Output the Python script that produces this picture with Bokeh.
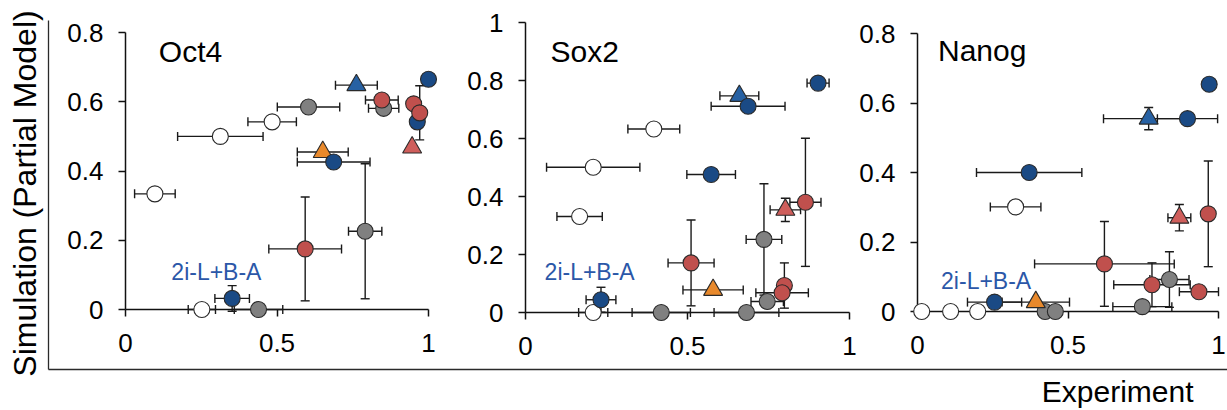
import math
from bokeh.plotting import figure
from bokeh.models import (Range1d, LinearAxis, FixedTicker, ColumnDataSource,
                          Whisker, TeeHead, Label)
from bokeh.embed import file_html
from bokeh.resources import INLINE

FONT = "Liberation Sans"

# ------------------------------------------------------------------ data
x_ticks = [0, 0.5, 1]
x_tick_labels = ["0", "0.5", "1"]
oct4_y_ticks = [0, 0.2, 0.4, 0.6, 0.8]
oct4_y_tick_labels = ["0", "0.2", "0.4", "0.6", "0.8"]
sox2_y_ticks = [0, 0.2, 0.4, 0.6, 0.8, 1]
sox2_y_tick_labels = ["0", "0.2", "0.4", "0.6", "0.8", "1"]
nanog_y_ticks = [0, 0.2, 0.4, 0.6, 0.8]
nanog_y_tick_labels = ["0", "0.2", "0.4", "0.6", "0.8"]

panel_names = ["Oct4", "Sox2", "Nanog"]
annotation_text = "2i-L+B-A"
y_title = "Simulation (Partial Model)"
x_title = "Experiment"

# Oct4
oct4_white_x = [0.097, 0.313, 0.484, 0.252]
oct4_white_y = [0.334, 0.500, 0.542, 0.0]
oct4_white_xerr = [0.067, 0.141, 0.080, 0.045]
oct4_white_yerr = [0, 0, 0, 0]
oct4_gray_x = [0.604, 0.852, 0.791, 0.439]
oct4_gray_y = [0.585, 0.581, 0.226, 0.0]
oct4_gray_xerr = [0.103, 0.050, 0.055, 0.080]
oct4_gray_yerr = [0, 0, 0.195, 0]
oct4_orange_x = [0.651]
oct4_orange_y = [0.455]
oct4_orange_xerr = [0.084]
oct4_orange_yerr = [0]
oct4_bluetri_x = [0.762]
oct4_bluetri_y = [0.648]
oct4_bluetri_xerr = [0.069]
oct4_bluetri_yerr = [0]
oct4_blue_x = [1.0, 0.963, 0.687, 0.352]
oct4_blue_y = [0.665, 0.542, 0.426, 0.032]
oct4_blue_xerr = [0, 0, 0.120, 0.057]
oct4_blue_yerr = [0, 0, 0, 0.037]
oct4_red_x = [0.846, 0.951, 0.971, 0.593]
oct4_red_y = [0.605, 0.594, 0.568, 0.175]
oct4_red_xerr = [0.054, 0, 0, 0.120]
oct4_red_yerr = [0, 0, 0.078, 0.150]
oct4_redtri_x = [0.946]
oct4_redtri_y = [0.468]
oct4_redtri_xerr = [0]
oct4_redtri_yerr = [0]

# Sox2
sox2_white_x = [0.209, 0.396, 0.167, 0.209]
sox2_white_y = [0.501, 0.633, 0.331, 0.0]
sox2_white_xerr = [0.144, 0.080, 0.070, 0.045]
sox2_white_yerr = [0, 0, 0, 0]
sox2_gray_x = [0.736, 0.746, 0.419, 0.682]
sox2_gray_y = [0.252, 0.038, 0.0, 0.0]
sox2_gray_xerr = [0.055, 0.050, 0.090, 0.100]
sox2_gray_yerr = [0.192, 0, 0, 0]
sox2_orange_x = [0.579]
sox2_orange_y = [0.078]
sox2_orange_xerr = [0.093]
sox2_orange_yerr = [0]
sox2_bluetri_x = [0.660]
sox2_bluetri_y = [0.747]
sox2_bluetri_xerr = [0.060]
sox2_bluetri_yerr = [0]
sox2_blue_x = [0.903, 0.687, 0.573, 0.233]
sox2_blue_y = [0.791, 0.711, 0.476, 0.044]
sox2_blue_xerr = [0.034, 0.114, 0.075, 0.046]
sox2_blue_yerr = [0, 0, 0, 0.043]
sox2_red_x = [0.864, 0.511, 0.799, 0.792]
sox2_red_y = [0.380, 0.171, 0.093, 0.068]
sox2_red_xerr = [0.048, 0.071, 0, 0.081]
sox2_red_yerr = [0.221, 0.148, 0.078, 0]
sox2_redtri_x = [0.802]
sox2_redtri_y = [0.354]
sox2_redtri_xerr = [0.047]
sox2_redtri_yerr = [0.040]

# Nanog
nanog_white_x = [0.014, 0.110, 0.200, 0.326]
nanog_white_y = [0.0, 0.0, 0.0, 0.301]
nanog_white_xerr = [0, 0, 0, 0.084]
nanog_white_yerr = [0, 0, 0, 0]
nanog_gray_x = [0.837, 0.747, 0.424, 0.458]
nanog_gray_y = [0.092, 0.014, 0.0, 0.0]
nanog_gray_xerr = [0.065, 0.098, 0, 0]
nanog_gray_yerr = [0.080, 0, 0, 0]
nanog_orange_x = [0.393]
nanog_orange_y = [0.027]
nanog_orange_xerr = [0.112]
nanog_orange_yerr = [0]
nanog_bluetri_x = [0.768]
nanog_bluetri_y = [0.555]
nanog_bluetri_xerr = [0.150]
nanog_bluetri_yerr = [0.032]
nanog_blue_x = [0.969, 0.897, 0.371, 0.256]
nanog_blue_y = [0.654, 0.555, 0.400, 0.027]
nanog_blue_xerr = [0, 0.100, 0.175, 0.090]
nanog_blue_yerr = [0, 0, 0, 0]
nanog_red_x = [0.966, 0.621, 0.779, 0.935]
nanog_red_y = [0.281, 0.137, 0.077, 0.057]
nanog_red_xerr = [0, 0.232, 0.127, 0.065]
nanog_red_yerr = [0.152, 0.122, 0.063, 0]
nanog_redtri_x = [0.870]
nanog_redtri_y = [0.270]
nanog_redtri_xerr = [0.038]
nanog_redtri_yerr = [0.038]

# ------------------------------------------------------------------ layout
W, H = 1227, 410               # canvas == whole page; frame covers whole canvas
OUT_L, OUT_T, OUT_B = 48, 20, 369   # outer L frame (page px)
# per panel: page px of x=0, x=1, y=0, y=ymax ; ymax
geom = {
    "oct4": (125, 428, 309, 32, 0.8),
    "sox2": (525, 849, 312, 22, 1.0),
    "nanog": (917, 1218, 311, 33, 0.8),
}
title_pos = {"oct4": (0.11, 0.745), "sox2": (0.077, 0.90), "nanog": (0.068, 0.75)}
annot_pos = {"oct4": (0.30, 0.108), "sox2": (0.198, 0.14), "nanog": (0.228, 0.089)}

styles = [  # name, marker, fill, size
    ("white", "circle", "#ffffff", 16),
    ("gray", "circle", "#808080", 16),
    ("orange", "triangle", "#e8892c", 19),
    ("bluetri", "triangle", "#2761a3", 19),
    ("blue", "circle", "#1a4a85", 16),
    ("red", "circle", "#c0504d", 16),
    ("redtri", "triangle", "#cf5e5b", 19),
]

g = globals()
yticks = {"oct4": (oct4_y_ticks, oct4_y_tick_labels),
          "sox2": (sox2_y_ticks, sox2_y_tick_labels),
          "nanog": (nanog_y_ticks, nanog_y_tick_labels)}

extra_x, extra_y = {}, {}
for key, (x0, x1, y0, yt, ymax) in geom.items():
    sx = x1 - x0
    sy = (y0 - yt) / ymax
    extra_x[key + "_x"] = Range1d((0 - x0) / sx, (W - x0) / sx)
    extra_y[key + "_y"] = Range1d(-(H - y0) / sy, y0 / sy)

# main range: x = page px, y = H - page px
p = figure(width=W, height=H, x_range=Range1d(0, W), y_range=Range1d(0, H),
           x_axis_type=None, y_axis_type=None, output_backend="svg",
           toolbar_location=None, min_border=0,
           min_border_left=0, min_border_right=0, min_border_top=0, min_border_bottom=0)
p.outline_line_color = None
p.background_fill_color = "white"
p.border_fill_color = "white"
p.extra_x_ranges = extra_x
p.extra_y_ranges = extra_y

# outer L-shaped frame
outer = dict(ticker=FixedTicker(ticks=[]), axis_line_color="#2a2a2a",
             axis_line_width=1.3, major_tick_line_color=None,
             minor_tick_line_color=None, major_label_text_font_size="0px",
             major_tick_out=0, major_tick_in=0)
p.add_layout(LinearAxis(fixed_location=OUT_L, bounds=(H - OUT_B, H - OUT_T), **outer), "left")
p.add_layout(LinearAxis(fixed_location=H - OUT_B, bounds=(OUT_L, W), **outer), "below")

p.add_layout(Label(x=24, y=H - 193, text=y_title, angle=math.pi / 2,
                   text_font=FONT, text_font_size="32px", text_color="black",
                   text_align="center", text_baseline="middle"))
p.add_layout(Label(x=1193, y=H - 391, text=x_title, text_font=FONT,
                   text_font_size="30px", text_color="black",
                   text_align="right", text_baseline="middle"))

ERR = "#1a1a1a"
for key, name in zip(geom.keys(), panel_names):
    kx, ky = key + "_x", key + "_y"
    ymax = geom[key][4]
    common = dict(axis_line_color="#111111", axis_line_width=1.5,
                  major_tick_line_color="#111111", major_tick_line_width=1.5,
                  major_tick_in=0, major_tick_out=7, minor_tick_line_color=None,
                  major_label_text_font=FONT, major_label_text_font_size="26px",
                  major_label_text_color="black", x_range_name=kx, y_range_name=ky,
                  fixed_location=0, level="underlay")
    xa = LinearAxis(bounds=(0, 1), ticker=FixedTicker(ticks=x_ticks),
                    major_label_overrides=dict(zip(x_ticks, x_tick_labels)),
                    major_label_standoff=17, **common)
    p.add_layout(xa, "below")
    yt_, yl_ = yticks[key]
    ya = LinearAxis(bounds=(0, ymax), ticker=FixedTicker(ticks=yt_),
                    major_label_overrides=dict(zip(yt_, yl_)),
                    major_label_standoff=15, **common)
    p.add_layout(ya, "left")

    # error bars
    for sname, marker, fill, size in styles:
        xs = g[f"{key}_{sname}_x"]
        ys = g[f"{key}_{sname}_y"]
        xe = g[f"{key}_{sname}_xerr"]
        ye = g[f"{key}_{sname}_yerr"]
        hx = [i for i in range(len(xs)) if xe[i] > 0]
        if hx:
            src = ColumnDataSource(dict(base=[ys[i] for i in hx],
                                        lower=[xs[i] - xe[i] for i in hx],
                                        upper=[xs[i] + xe[i] for i in hx]))
            p.add_layout(Whisker(source=src, base="base", lower="lower", upper="upper",
                                 dimension="width", x_range_name=kx, y_range_name=ky,
                                 line_color=ERR, line_width=1.4, level="underlay",
                                 upper_head=TeeHead(size=9, line_color=ERR, line_width=1.4),
                                 lower_head=TeeHead(size=9, line_color=ERR, line_width=1.4)))
        hy = [i for i in range(len(xs)) if ye[i] > 0]
        if hy:
            src = ColumnDataSource(dict(base=[xs[i] for i in hy],
                                        lower=[ys[i] - ye[i] for i in hy],
                                        upper=[ys[i] + ye[i] for i in hy]))
            p.add_layout(Whisker(source=src, base="base", lower="lower", upper="upper",
                                 dimension="height", x_range_name=kx, y_range_name=ky,
                                 line_color=ERR, line_width=1.4, level="underlay",
                                 upper_head=TeeHead(size=9, line_color=ERR, line_width=1.4),
                                 lower_head=TeeHead(size=9, line_color=ERR, line_width=1.4)))

    # markers
    for sname, marker, fill, size in styles:
        src = ColumnDataSource(dict(x=g[f"{key}_{sname}_x"], y=g[f"{key}_{sname}_y"]))
        p.scatter("x", "y", source=src, marker=marker, size=size, fill_color=fill,
                  line_color="#2a2a2a", line_width=1.1, x_range_name=kx, y_range_name=ky)

    tx, ty = title_pos[key]
    p.add_layout(Label(x=tx, y=ty, text=name, x_range_name=kx, y_range_name=ky,
                       text_font=FONT, text_font_size="30px", text_color="black",
                       text_align="left", text_baseline="middle"))
    ax_, ay_ = annot_pos[key]
    p.add_layout(Label(x=ax_, y=ay_, text=annotation_text, x_range_name=kx, y_range_name=ky,
                       text_font=FONT, text_font_size="23px", text_color="#2b57a8",
                       text_align="center", text_baseline="middle"))

open("out.html", "w").write(file_html(p, INLINE))
